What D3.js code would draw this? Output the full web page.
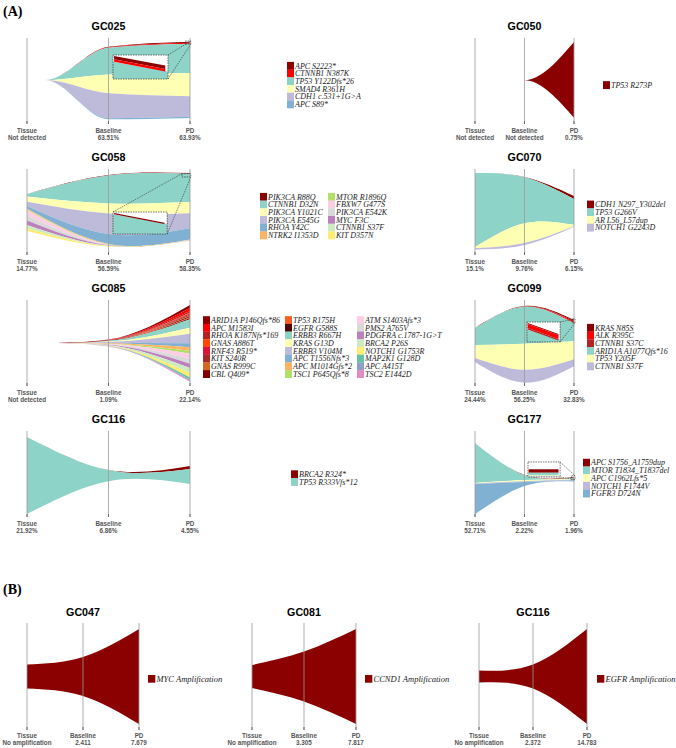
<!DOCTYPE html>
<html>
<head>
<meta charset="utf-8">
<script src="https://cdn.jsdelivr.net/npm/d3@7"></script>
<style>
  body { margin: 0; background: #fff; }
  svg { display: block; }
</style>
</head>
<body>
<svg id="chart" width="676" height="748"></svg>
<script>
// ---- data: band widths per clone as [Tissue, Baseline, PD] ----
const timeLabels = ['Tissue', 'Baseline', 'PD'];

const gc025Mutations = ['APC S2223*', 'CTNNB1 N387K', 'TP53 Y122Dfs*26', 'SMAD4 R361H', 'CDH1 c.531+1G>A', 'APC S89*'];
const gc025Values = [[0, 0.6, 1.2], [0, 0.6, 1.2], [0, 31, 34], [0, 22, 27], [0, 29, 24], [0, 1.2, 1.2]];
const gc025Freq = ['Not detected', '63.51%', '63.93%'];

const gc050Mutations = ['TP53 R273P'];
const gc050Values = [[0, 0, 88]];
const gc050Freq = ['Not detected', 'Not detected', '0.75%'];

const gc058Mutations = ['PIK3CA R88Q', 'CTNNB1 D32N', 'PIK3CA Y1021C', 'PIK3CA E545G', 'RHOA Y42C', 'NTRK2 I1353D',
  'MTOR R1896Q', 'FBXW7 G477S', 'PIK3CA E542K', 'MYC F3C', 'CTNNB1 S37F', 'KIT D357N'];
const gc058Values = [[0, 0.5, 0.8], [3, 32.5, 33], [6, 11.6, 13], [5, 24, 17.5], [3, 11.6, 13], [1, 0.4, 0.2],
  [1, 0.4, 0.2], [6, 0.4, 0.2], [6, 0.4, 0.2], [5, 0.4, 0.2], [4, 0.4, 0.2], [3, 0.4, 0.2]];
const gc058Freq = ['14.77%', '56.59%', '58.35%'];

const gc070Mutations = ['CDH1 N297_Y302del', 'TP53 G266V', 'AR L56_L57dup', 'NOTCH1 G2243D'];
const gc070Values = [[0, 0.3, 3.5], [86, 53.5, 30], [1.5, 23, 1.7], [1.5, 2.3, 0.5]];
const gc070Freq = ['15.1%', '9.76%', '6.15%'];

const gc085Mutations = ['ARID1A P146Qfs*86', 'APC M1583I', 'RHOA K187Nfs*169', 'GNAS A886T', 'RNF43 R519*', 'KIT S240R',
  'GNAS R999C', 'CBL Q409*', 'TP53 R175H', 'EGFR G588S', 'ERBB3 R667H', 'KRAS G13D', 'ERBB3 V104M', 'APC T1556Nfs*3',
  'APC M1014Gfs*2', 'TSC1 P645Qfs*8', 'ATM S1403Afs*3', 'PMS2 A765V', 'PDGFRA c.1787-1G>T', 'BRCA2 P26S',
  'NOTCH1 G1753R', 'MAP2K1 G128D', 'APC A415T', 'TSC2 E1442D'];
const gc085Values = [[0, 0.3, 3.5], [0, 0.3, 3.5], [0, 0.15, 1.7], [0, 0.1, 1.2], [0, 0.1, 1.2], [0, 0.1, 1.2],
  [0, 0.1, 0.9], [0, 0.1, 1.2], [0, 0.1, 0.9], [0, 0.1, 1.2], [0, 0.9, 9.9], [0, 0.6, 7], [0, 1.0, 11], [0, 0.45, 4.7],
  [0, 0.4, 4], [0, 0.35, 3.5], [0, 0.5, 5.8], [0, 0.5, 5.8], [0, 0.45, 5.2], [0, 0.5, 5.8],
  [0, 0.45, 5.2], [0, 0.2, 2.3], [0, 0.15, 1.4], [0, 0.1, 1.2]];
const gc085Freq = ['Not detected', '1.09%', '22.14%'];

const gc099Mutations = ['KRAS N85S', 'ALK R395C', 'CTNNB1 S37C', 'ARID1A A1077Qfs*16', 'TP53 Y205F', 'CTNNB1 S37F'];
const gc099Values = [[0, 0.3, 1.2], [0, 0.3, 1.5], [0, 0.3, 1], [19.8, 43, 21], [15.1, 30.2, 21], [4.7, 15.1, 8.1]];
const gc099Freq = ['24.44%', '56.25%', '32.83%'];

const gc116Mutations = ['BRCA2 R324*', 'TP53 R333Vfs*12'];
const gc116Values = [[0, 0.2, 3.5], [89.5, 12.8, 17.4]];
const gc116Freq = ['21.92%', '6.86%', '4.55%'];

const gc177Mutations = ['APC S1756_A1759dup', 'MTOR T1834_T1837del', 'APC C1962Lfs*5', 'NOTCH1 F1744V', 'FGFR3 D724N'];
const gc177Values = [[0, 0.3, 1], [46.5, 5.8, 1.7], [0.6, 1.2, 0.6], [0.6, 1, 0.6], [35, 4.7, 1.2]];
const gc177Freq = ['52.71%', '2.22%', '1.96%'];

// panel B: amplification band width per timepoint
const gc047AmpSizes = [22.4, 36.4, 88.8];
const gc047AmpFreq = ['No amplification', '2.411', '7.679'];
const gc081AmpSizes = [21.5, 46.7, 88.8];
const gc081AmpFreq = ['No amplification', '3.305', '7.817'];
const gc116AmpSizes = [11.2, 22.4, 88.8];
const gc116AmpFreq = ['No amplification', '2.372', '14.783'];

// ---- styles ----
const reds = ['#8B0000', '#FF0000', '#B22222', '#FF4500', '#DC143C', '#A52A2A', '#D2691E', '#800000', '#FF5A1F', '#4E0707'];
const pastel = ['#8DD3C7', '#FFFFB3', '#BEBADA', '#80B1D3', '#FDB462', '#B3DE69', '#FCCDE5', '#D9D9D9',
  '#BC80BD', '#CCEBC5', '#FFED6F', '#66C2A5', '#8DA0CB', '#E78AC3'];
const sansFont = '"Liberation Sans", Arial, sans-serif';
const serifFont = '"Liberation Serif", "Times New Roman", serif';

// ---- layout of panel A ----
const colRange = [[27, 190], [475, 574]];
const rowTop = (r) => 38 + r * 131;
const panelsA = [
  { id: 'GC025', mutations: gc025Mutations, values: gc025Values, freq: gc025Freq, col: 0, row: 0, reds: 2,
    start: 0.22, top: [48.8, 10.1, 4.3], legendX: [287], legendRows: 6,
    inset: { box: [1.055, 1.73, 19.8, 47.7], src: [1.94, 2.01, 3.5, 7], links: [['tr', 'tr'], ['br', 'br']],
      bands: [[0, 0.04, 0.18, 0.44, 0.58], [1, 0.18, 0.28, 0.58, 0.69]], below: 2 } },
  { id: 'GC050', mutations: gc050Mutations, values: gc050Values, freq: gc050Freq, col: 1, row: 0, reds: 1,
    start: 1, top: [49, 49, 4.7], legendX: [603], legendRows: 1 },
  { id: 'GC058', mutations: gc058Mutations, values: gc058Values, freq: gc058Freq, col: 0, row: 1, reds: 1,
    start: 0, top: [29, 7, 4.7], legendX: [260, 328], legendRows: 6,
    inset: { box: [1.055, 1.72, 50, 75.6], src: [1.9, 2.01, 5.4, 9.3], links: [['tl', 'tl'], ['br', 'br']],
      bands: [[0, 0.05, 0.1, 0.49, 0.54]], below: 1 } },
  { id: 'GC070', mutations: gc070Mutations, values: gc070Values, freq: gc070Freq, col: 1, row: 1, reds: 1,
    start: 0, top: [4.7, 9.3, 31.4], legendX: [587], legendRows: 4 },
  { id: 'GC085', mutations: gc085Mutations, values: gc085Values, freq: gc085Freq, col: 0, row: 2, reds: 10,
    start: 0.37, top: [50, 46, 5.8], legendX: [203, 285, 357], legendRows: 8 },
  { id: 'GC099', mutations: gc099Mutations, values: gc099Values, freq: gc099Freq, col: 1, row: 2, reds: 3,
    start: 0, top: [32.6, 7, 23.3], legendX: [587], legendRows: 6,
    inset: { box: [1.05, 1.72, 25.6, 48.8], src: [1.97, 2.02, 22, 26.7], links: [['tr', 'tr'], ['br', 'br']],
      bands: [[0, 0.05, 0.1, 0.6, 0.65], [1, 0.1, 0.3, 0.65, 0.85], [2, 0.3, 0.38, 0.85, 0.93]], below: 3 } },
  { id: 'GC116', mutations: gc116Mutations, values: gc116Values, freq: gc116Freq, col: 0, row: 3, reds: 1,
    start: 0, top: [7, 45.3, 40.7], legendX: [291], legendRows: 2 },
  { id: 'GC177', mutations: gc177Mutations, values: gc177Values, freq: gc177Freq, col: 1, row: 3, reds: 1,
    start: 0, top: [14, 51, 53.5], legendX: [583], legendRows: 5,
    inset: { box: [1.07, 1.72, 36, 53.5], src: [1.95, 2.02, 52, 56.6], links: [['tr', 'tr'], ['br', 'br']],
      bands: [[0, 0.49, 0.72, 0.49, 0.72], [1, 0.72, 0.9, 0.72, 0.9], [2, 0.9, 0.95, 0.9, 0.95], [3, 0.95, 0.98, 0.95, 0.98]],
      below: null } },
];

const panelsB = [
  { id: 'GC047', sizes: gc047AmpSizes, freq: gc047AmpFreq, gene: 'MYC Amplification', xr: [27, 139], legendX: 148 },
  { id: 'GC081', sizes: gc081AmpSizes, freq: gc081AmpFreq, gene: 'CCND1 Amplification', xr: [252, 356], legendX: 365 },
  { id: 'GC116', sizes: gc116AmpSizes, freq: gc116AmpFreq, gene: 'EGFR Amplification', xr: [479, 587], legendX: 597 },
];

const svg = d3.select('#chart');

function cloneColor(p, i) {
  return i < p.reds ? reds[i] : pastel[i - p.reds];
}

function drawAxes(g, x, y, freq, gap) {
  [0, 1, 2].forEach((k) => {
    g.append('line')
      .attr('x1', x(k)).attr('x2', x(k))
      .attr('y1', y(0)).attr('y2', y(100))
      .attr('stroke', '#9a9a9a').attr('stroke-opacity', 0.8).attr('stroke-width', 1);
    g.append('line')
      .attr('x1', x(k)).attr('x2', x(k))
      .attr('y1', y(100) - 3).attr('y2', y(100))
      .attr('stroke', '#666').attr('stroke-width', 1);
    const t = g.append('text')
      .attr('text-anchor', 'middle')
      .style('font-family', sansFont)
      .style('font-size', '6.3px')
      .style('font-weight', 'bold')
      .attr('fill', '#555');
    t.append('tspan').attr('x', x(k)).attr('y', y(100) + gap[0]).text(timeLabels[k]);
    t.append('tspan').attr('x', x(k)).attr('y', y(100) + gap[1]).text(freq[k]);
  });
}

function drawTitle(g, x, yPos, label) {
  g.append('text')
    .attr('x', x(1)).attr('y', yPos)
    .attr('text-anchor', 'middle')
    .style('font-family', sansFont)
    .style('font-size', '10.7px')
    .style('font-weight', 'bold')
    .text(label);
}

function drawFish(g, p, x, y) {
  // clones not seen in tissue grow out of a flat tip at p.start
  const emerging = p.start > 0;
  const keep = emerging ? [0, 0, 1, 2] : [0, 1, 2];
  const times = emerging ? [p.start - 0.015, p.start, 1, 2] : [0, 1, 2];
  if (p.start >= 1) {
    keep.splice(0, 2, 1, 1);
  }
  const area = d3.area()
    .curve(emerging ? d3.curveMonotoneX : d3.curveNatural)
    .x((d) => x(d.t))
    .y0((d) => y(d.y0))
    .y1((d) => y(d.y1));
  p.values.forEach((v, i) => {
    const pts = keep.map((k, j) => {
      const y0 = p.top[k] + d3.sum(p.values.slice(0, i), (w) => w[k]);
      return { t: times[j], y0: y0, y1: y0 + v[k] };
    }).filter((d, j, arr) => j === 0 || d.t > arr[j - 1].t);
    g.append('path').datum(pts).attr('fill', cloneColor(p, i)).attr('d', area);
  });
}

function drawInset(g, p, x, y, clipId) {
  const ins = p.inset;
  const bx = [x(ins.box[0]), x(ins.box[1])];
  const by = [y(ins.box[2]), y(ins.box[3])];
  const sx = [x(ins.src[0]), x(ins.src[1])];
  const sy = [y(ins.src[2]), y(ins.src[3])];
  const corner = (xs, ys, c) => [c[1] === 'l' ? xs[0] : xs[1], c[0] === 't' ? ys[0] : ys[1]];

  ins.links.forEach(([a, b]) => {
    const p1 = corner(bx, by, a);
    const p2 = corner(sx, sy, b);
    g.append('line')
      .attr('x1', p1[0]).attr('y1', p1[1]).attr('x2', p2[0]).attr('y2', p2[1])
      .attr('stroke', '#333').attr('stroke-width', 0.6).attr('stroke-dasharray', '1.5,1');
  });
  g.append('rect')
    .attr('x', sx[0]).attr('y', sy[0]).attr('width', sx[1] - sx[0]).attr('height', sy[1] - sy[0])
    .attr('fill', 'none').attr('stroke', '#222').attr('stroke-width', 0.6).attr('stroke-dasharray', '1.5,1');

  g.append('clipPath').attr('id', clipId)
    .append('rect').attr('x', bx[0]).attr('y', by[0]).attr('width', bx[1] - bx[0]).attr('height', by[1] - by[0]);
  const inner = g.append('g').attr('clip-path', `url(#${clipId})`);
  inner.append('rect')
    .attr('x', bx[0]).attr('y', by[0]).attr('width', bx[1] - bx[0]).attr('height', by[1] - by[0])
    .attr('fill', '#fff');

  const fx = d3.scaleLinear().domain([0, 1]).range(bx);
  const fy = d3.scaleLinear().domain([0, 1]).range(by);
  const band = d3.area().x((d) => fx(d.f)).y0((d) => fy(d.a)).y1((d) => fy(d.b));
  if (ins.below !== null) {
    const last = ins.bands[ins.bands.length - 1];
    inner.append('path')
      .datum([{ f: 0, a: last[2], b: 1.2 }, { f: 1, a: last[4], b: 1.2 }])
      .attr('fill', cloneColor(p, ins.below)).attr('d', band);
  }
  ins.bands.forEach(([ci, l0, l1, r0, r1]) => {
    inner.append('path')
      .datum([{ f: 0.02, a: l0, b: l1 }, { f: 0.95, a: r0, b: r1 }])
      .attr('fill', cloneColor(p, ci)).attr('d', band);
  });
  g.append('rect')
    .attr('x', bx[0]).attr('y', by[0]).attr('width', bx[1] - bx[0]).attr('height', by[1] - by[0])
    .attr('fill', 'none').attr('stroke', '#333').attr('stroke-width', 0.7).attr('stroke-dasharray', '1.5,1');
}

function drawLegend(g, p, yMid) {
  const rowH = 7.7;
  const yStart = yMid + 4 - (p.legendRows * rowH) / 2;
  p.mutations.forEach((m, i) => {
    const c = Math.floor(i / p.legendRows);
    const r = i % p.legendRows;
    const lx = p.legendX[c];
    g.append('rect')
      .attr('x', lx).attr('y', yStart + r * rowH)
      .attr('width', 7).attr('height', rowH + 0.2)
      .attr('fill', cloneColor(p, i));
    g.append('text')
      .attr('x', lx + 8).attr('y', yStart + r * rowH + rowH / 2)
      .attr('dy', '0.35em')
      .style('font-family', serifFont)
      .style('font-style', 'italic')
      .style('font-size', '8px')
      .attr('fill', '#222')
      .text(m);
  });
}

// ---- panel A ----
svg.append('text')
  .attr('x', 3).attr('y', 16)
  .style('font-family', serifFont).style('font-size', '14px').style('font-weight', 'bold')
  .text('(A)');

panelsA.forEach((p, pi) => {
  const x = d3.scaleLinear().domain([0, 2]).range(colRange[p.col]);
  const top = rowTop(p.row);
  const y = d3.scaleLinear().domain([0, 100]).range([top, top + 86]);
  const g = svg.append('g').attr('class', 'panel');
  drawFish(g, p, x, y);
  drawAxes(g, x, y, p.freq, [9, 15.5]);
  if (p.inset) drawInset(g, p, x, y, `clip-${pi}`);
  drawTitle(g, x, top - 8, p.id);
  drawLegend(g, p, y(50));
});

// ---- panel B ----
svg.append('text')
  .attr('x', 3).attr('y', 594)
  .style('font-family', serifFont).style('font-size', '14px').style('font-weight', 'bold')
  .text('(B)');

panelsB.forEach((p) => {
  const x = d3.scaleLinear().domain([0, 2]).range(p.xr);
  const y = d3.scaleLinear().domain([0, 100]).range([623, 730]);
  const g = svg.append('g').attr('class', 'panel-b');
  const area = d3.area()
    .curve(d3.curveNatural)
    .x((d, i) => x(i))
    .y0((d) => y(50 - d / 2))
    .y1((d) => y(50 + d / 2));
  g.append('path').datum(p.sizes).attr('fill', '#8B0000').attr('d', area);

  drawAxes(g, x, y, p.freq, [7.5, 15]);
  drawTitle(g, x, 616, p.id);

  g.append('rect')
    .attr('x', p.legendX).attr('y', y(50) - 1.5)
    .attr('width', 7.3).attr('height', 7.7)
    .attr('fill', '#8B0000');
  g.append('text')
    .attr('x', p.legendX + 8.5).attr('y', y(50) + 2.4)
    .attr('dy', '0.35em')
    .style('font-family', serifFont)
    .style('font-style', 'italic')
    .style('font-size', '8.5px')
    .attr('fill', '#222')
    .text(p.gene);
});
</script>
</body>
</html>
